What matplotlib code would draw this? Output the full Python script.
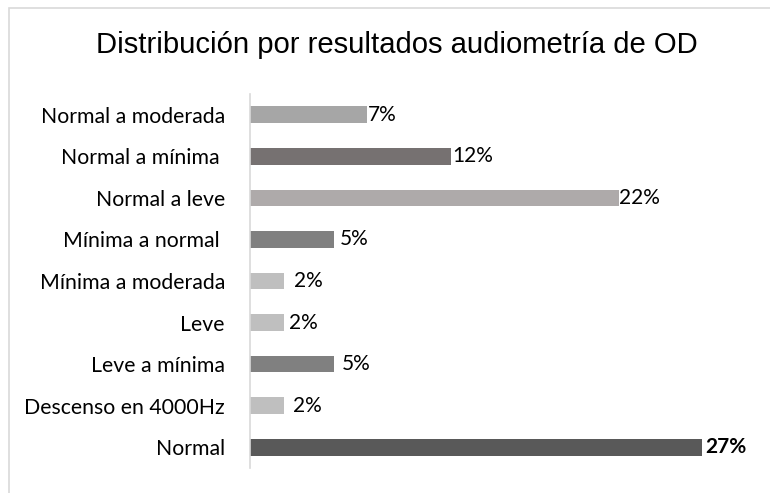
import matplotlib
matplotlib.use("Agg")
import matplotlib.pyplot as plt
from matplotlib.patches import Rectangle

categories = ["Normal a moderada", "Normal a mínima ", "Normal a leve", "Mínima a normal ",
              "Mínima a moderada", "Leve", "Leve a mínima", "Descenso en 4000Hz", "Normal"]
values = [7, 12, 22, 5, 2, 2, 5, 2, 27]
labels = ["7%", "12%", "22%", "5%", "2%", "2%", "5%", "2%", "27%"]
colors = ["#a6a6a6", "#767171", "#aeaaaa", "#808080", "#bfbfbf", "#bfbfbf", "#808080", "#bfbfbf", "#595959"]
label_offsets = [0.05, 0.05, 0.05, 0.35, 0.65, 0.35, 0.45, 0.55, 0.15]
label_bold = [False] * 8 + [True]

fig = plt.figure(figsize=(7.7, 4.93), dpi=100)
fig.patches.append(Rectangle((9 / 770, -0.1), 1.2, 1 - 8 / 493 + 0.1, transform=fig.transFigure,
                             fill=False, edgecolor="#d9d9d9", linewidth=1.2))

W, H = 770, 493
ax = fig.add_axes([250 / W, 1 - 468 / H, (751 - 250) / W, (468 - 94) / H])
ypos = list(range(len(categories)))[::-1]
ax.barh(ypos, values, height=0.4, color=colors)
ax.set_xlim(0, 29.9)
ax.set_ylim(-0.5, len(categories) - 0.5)
ax.set_yticks(ypos)
ax.set_yticklabels(categories, family="Lato", fontsize=15.3)
ax.tick_params(axis="y", length=0, pad=18)
ax.set_xticks([])
for s in ["top", "right", "bottom"]:
    ax.spines[s].set_visible(False)
ax.spines["left"].set_color("#d9d9d9")
ax.spines["left"].set_linewidth(1.2)
for y, v, lab, off, b in zip(ypos, values, labels, label_offsets, label_bold):
    ax.text(v + off, y, lab, va="center", ha="left", family="Lato", fontsize=15,
            fontweight="bold" if b else "normal", color="black")

fig.text(0.5 + 12 / W, 1 - 45 / H, "Distribución por resultados audiometría de OD",
         ha="center", va="center", family="Liberation Sans", fontsize=21.1, color="black")

fig.savefig("out.png", dpi=100)
